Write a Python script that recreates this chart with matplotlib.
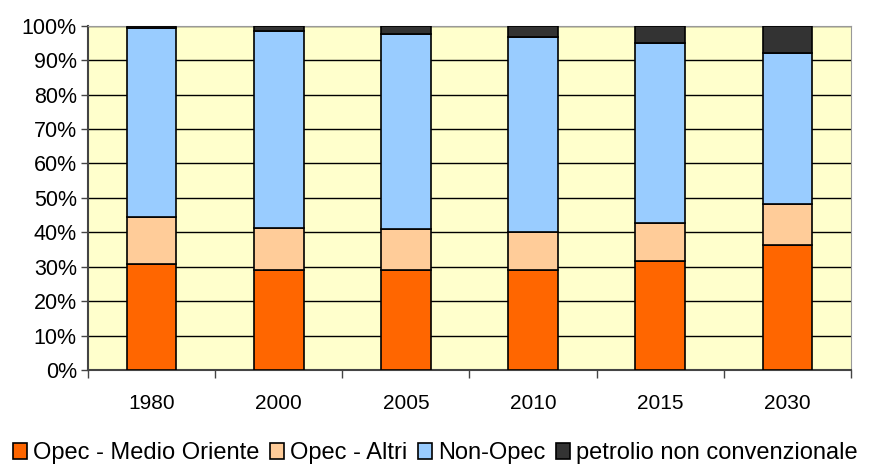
import numpy as np
import matplotlib.pyplot as plt
from matplotlib.ticker import PercentFormatter

plt.rcParams['font.family'] = ['Liberation Sans', 'DejaVu Sans']

years = ["1980", "2000", "2005", "2010", "2015", "2030"]
medio_oriente = [30.7, 29.1, 29.1, 29.1, 31.6, 36.2]
opec_altri = [13.7, 12.3, 11.9, 11.0, 11.0, 12.0]
non_opec = [54.9, 57.1, 56.7, 56.6, 52.5, 43.9]
non_conv = [0.7, 1.5, 2.3, 3.3, 4.9, 7.9]

labels = ["Opec - Medio Oriente", "Opec - Altri", "Non-Opec", "petrolio non convenzionale"]
colors = ["#FF6600", "#FFCC99", "#99CCFF", "#333333"]

fig = plt.figure(figsize=(8.71, 4.69), dpi=100)
ax = fig.add_axes([0.101, 0.211, 0.876, 0.734])
ax.set_facecolor("#FFFFCC")

x = np.arange(len(years))
bottom = np.zeros(len(years))
for vals, lab, col in zip([medio_oriente, opec_altri, non_opec, non_conv], labels, colors):
    ax.bar(x, vals, 0.39, bottom=bottom, color=col, edgecolor="black", linewidth=1.2,
           label=lab, zorder=3)
    bottom += np.array(vals)

ax.set_ylim(0, 100)
ax.set_xlim(-0.5, len(years) - 0.5)
ax.set_yticks(np.arange(0, 101, 10))
ax.yaxis.set_major_formatter(PercentFormatter(decimals=0))
ax.grid(axis="y", color="black", linewidth=1, zorder=1)

ax.set_xticks(x)
ax.set_xticklabels(years)
ax.set_xticks(np.arange(-0.5, len(years)), minor=True)
ax.tick_params(axis="x", which="major", length=0, pad=17, labelsize=15)
ax.tick_params(axis="x", which="minor", length=6, width=1, color="#444444")
ax.tick_params(axis="y", length=5, width=1, labelsize=15.5, color="#444444", pad=3)

for s in ["top", "right"]:
    ax.spines[s].set_color("#999999")
for s in ["left", "bottom"]:
    ax.spines[s].set_color("#444444")
    ax.spines[s].set_linewidth(1.5)

fig.legend(loc="lower center", bbox_to_anchor=(0.5, -0.025), ncol=4, frameon=False,
           fontsize=17, handlelength=0.6, handleheight=0.7, handletextpad=0.25,
           columnspacing=0.45, borderaxespad=0.3)

fig.savefig("out.png", dpi=100)
